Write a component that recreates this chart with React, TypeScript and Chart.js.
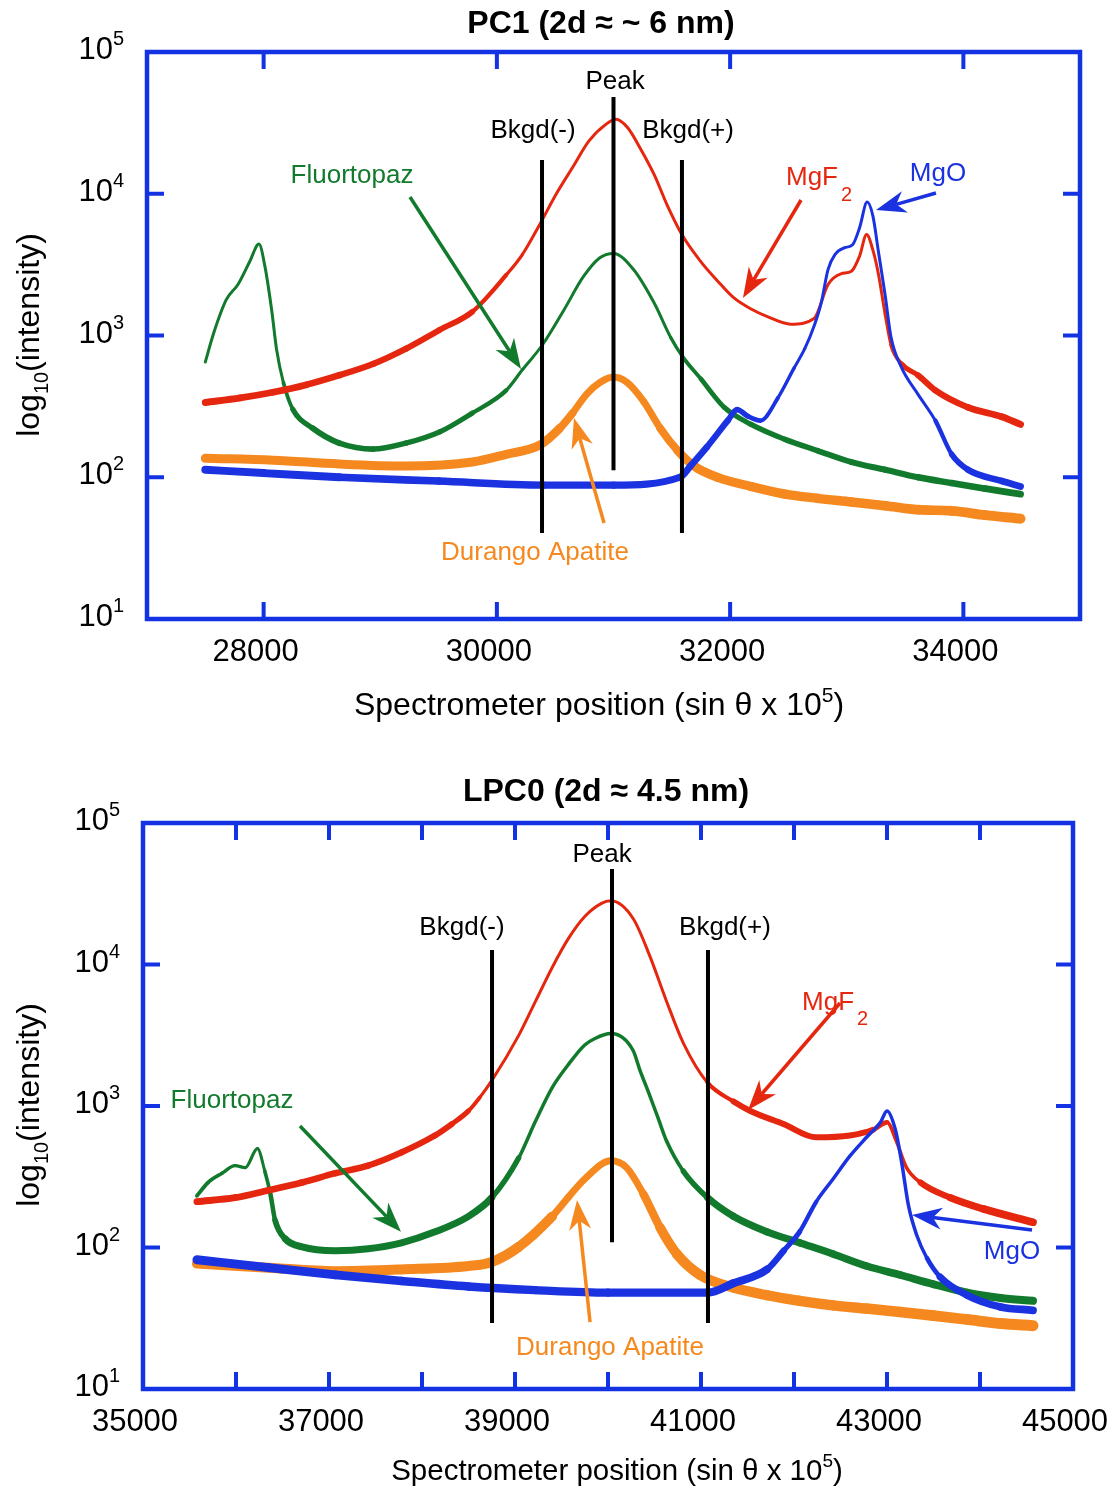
import React, { useEffect, useRef } from "react";
import { Chart, registerables } from "chart.js";

Chart.register(...registerables);

const FONT = '"Liberation Sans", Arial, Helvetica, sans-serif';

// ---------------- PC1 (2d ≈ ~6 nm) ----------------
const pc1MgF2X = [27500, 27800, 28080, 28370, 28650, 28940, 29220, 29510, 29790, 30080, 30220, 30370, 30510, 30650, 30790, 30940, 31020, 31120, 31230, 31350, 31460, 31590, 31750, 31890, 32030, 32180, 32320, 32520, 32720, 32840, 32950, 33040, 33110, 33170, 33225, 33270, 33330, 33380, 33470, 33610, 33760, 34040, 34330, 34490];
const pc1MgF2Y = [337, 363, 398, 450, 525, 631, 807, 1096, 1472, 2673, 3741, 6124, 10000, 15380, 23600, 31120, 33500, 29310, 20890, 13580, 8318, 5093, 3311, 2438, 1849, 1538, 1358, 1202, 1318, 2291, 2723, 2838, 3631, 5152, 3981, 2754, 1403, 857, 631, 525, 410, 311, 267, 236];

const pc1MgOX = [27500, 28000, 28650, 29500, 30400, 31000, 31570, 31660, 31800, 31980, 32060, 32150, 32260, 32410, 32550, 32640, 32720, 32780, 32840, 32900, 32980, 33050, 33110, 33175, 33225, 33270, 33330, 33380, 33470, 33610, 33760, 33900, 34040, 34330, 34490];
const pc1MgOY = [113, 107, 100, 94, 88, 88, 100, 120, 163, 251, 300, 270, 251, 363, 593, 807, 1167, 1687, 2931, 3741, 4159, 4365, 5754, 8730, 6918, 3981, 1905, 970, 593, 386, 251, 145, 113, 94, 86];

const pc1TopazX = [27500, 27570, 27680, 27780, 27880, 27960, 28010, 28070, 28110, 28170, 28250, 28420, 28650, 28940, 29220, 29510, 29790, 30080, 30220, 30390, 30570, 30740, 30880, 31000, 31170, 31350, 31490, 31590, 31750, 31950, 32180, 32470, 32750, 33040, 33330, 33610, 33900, 34190, 34490];
const pc1TopazY = [650, 1030, 1791, 2291, 3311, 4416, 3112, 1489, 807, 464, 302, 222, 174, 158, 174, 209, 284, 410, 575, 857, 1489, 2588, 3524, 3793, 2931, 1687, 970, 713, 493, 311, 236, 185, 154, 128, 113, 100, 91, 83, 76];

const pc1ApatiteX = [27500, 28080, 28650, 29220, 29790, 30080, 30370, 30540, 30650, 30770, 30880, 31000, 31120, 31260, 31400, 31550, 31690, 31890, 32180, 32470, 32750, 33040, 33330, 33610, 33900, 34190, 34490];
const pc1ApatiteY = [136, 132, 124, 120, 128, 145, 169, 222, 284, 386, 464, 509, 464, 341, 222, 154, 120, 100, 86, 76, 71, 67, 63, 59, 58, 54, 51];

const pc1LineX = [30387, 31000, 31587];
const pc1LineLow = [40.5, 112, 40.5];
const pc1LineHigh = [17300, 48200, 17300];

const pc1XTicks = [28000, 30000, 32000, 34000];
const pc1XLabels = [28000, 30000, 32000, 34000];

// ---------------- LPC0 (2d ≈ 4.5 nm) ----------------
const lpc0MgF2X = [35580, 35990, 36350, 36710, 37070, 37420, 37780, 38140, 38320, 38500, 38620, 38750, 39040, 39220, 39400, 39570, 39750, 39930, 40030, 40270, 40450, 40630, 40810, 41070, 41350, 41530, 41890, 42240, 42600, 42850, 43000, 43100, 43210, 43360, 43680, 44040, 44570];
const lpc0MgF2Y = [211, 225, 254, 288, 335, 379, 470, 619, 745, 923, 1146, 1510, 3155, 5483, 9528, 15100, 21830, 27040, 28180, 21130, 11460, 5483, 2786, 1462, 1076, 923, 745, 601, 619, 679, 767, 565, 367, 288, 225, 187, 151];

const lpc0MgOX = [35580, 36350, 37070, 37780, 38500, 39220, 40000, 41070, 41350, 41710, 41890, 42060, 42240, 42420, 42600, 42780, 42930, 43000, 43090, 43160, 43230, 43320, 43430, 43570, 43860, 44220, 44570];
const lpc0MgOY = [82, 72, 64, 58, 53, 50, 48, 48, 56, 70, 95, 129, 211, 305, 442, 601, 767, 923, 679, 391, 199, 122, 84, 62, 46, 38, 36];

const lpc0TopazX = [35580, 35700, 35850, 35990, 36100, 36230, 36310, 36370, 36420, 36530, 36710, 37070, 37420, 37780, 38140, 38500, 38750, 39040, 39220, 39400, 39570, 39750, 39860, 40030, 40270, 40340, 40450, 40540, 40630, 40810, 41070, 41350, 41710, 42060, 42420, 42780, 43140, 43500, 43860, 44220, 44570];
const lpc0TopazY = [232, 288, 335, 379, 367, 500, 346, 239, 156, 115, 101, 95, 98, 108, 129, 166, 225, 430, 780, 1350, 1950, 2700, 3000, 3251, 2466, 1816, 1180, 817, 565, 346, 225, 166, 129, 108, 90, 74, 64, 55, 48, 44, 42];

const lpc0ApatiteX = [35580, 36350, 37070, 37780, 38500, 38750, 39040, 39400, 39570, 39750, 40030, 40200, 40380, 40560, 40740, 40990, 41350, 41710, 42060, 42420, 42780, 43140, 43500, 43860, 44220, 44570];
const lpc0ApatiteY = [77, 72, 68, 70, 74, 79, 101, 166, 225, 305, 410, 367, 239, 138, 90, 64, 52, 46, 42, 39, 37, 35, 33, 31, 29, 28];

const lpc0LineX = [38753, 40043, 41075];
const lpc0LineLow = [29.3, 109, 29.3];
const lpc0LineHigh = [12650, 47300, 12650];

const lpc0XTicks = [36000, 37000, 38000, 39000, 40000, 41000, 42000, 43000, 44000];
const lpc0XLabels = [35000, 37000, 39000, 41000, 43000, 45000];

const yTickExps = [2, 3, 4];
const yLabelExps = [1, 2, 3, 4, 5];

// ---------------- styles ----------------
const RED = "#e6270f";
const GREEN = "#127a2c";
const BLUE = "#1a32e0";
const ORANGE = "#f5891f";
const FRAME = "#1232e3";

type Prof = [number, number][];
type SeriesCfg = { x: number[]; y: number[]; color: string; prof: Prof };
type TextCfg = { text: string; sub?: string; x: number; y: number; color: string };
type ArrowCfg = { x0: number; y0: number; x1: number; y1: number; color: string };
type PanelCfg = {
  title: string;
  titleCenter: [number, number];
  padding: { left: number; top: number; right: number; bottom: number };
  xMin: number;
  xMax: number;
  xTicks: number[];
  xLabels: number[];
  xTitleCenter: [number, number];
  xTitleSize: number;
  yTitleCenterY: number;
  series: SeriesCfg[];
  lineX: number[];
  lineLow: number[];
  lineHigh: number[];
  texts: TextCfg[];
  arrows: ArrowCfg[];
};

const pc1: PanelCfg = {
  title: "PC1 (2d ≈ ~ 6 nm)",
  titleCenter: [601, 33],
  padding: { left: 147, top: 52, right: 35, bottom: 126 },
  xMin: 27000,
  xMax: 35000,
  xTicks: pc1XTicks,
  xLabels: pc1XLabels,
  xTitleCenter: [599, 715],
  xTitleSize: 32,
  yTitleCenterY: 335,
  series: [
    { x: pc1MgOX, y: pc1MgOY, color: BLUE, prof: [[27500, 8], [31600, 7], [32000, 6], [32300, 4], [32600, 3], [33700, 3], [34000, 6], [34500, 7]] },
    { x: pc1MgF2X, y: pc1MgF2Y, color: RED, prof: [[27500, 7], [29600, 6], [30200, 3], [33350, 3], [33650, 6], [34500, 7]] },
    { x: pc1TopazX, y: pc1TopazY, color: GREEN, prof: [[27500, 3], [28150, 3], [28400, 6], [29800, 5], [30200, 3], [31500, 3], [31900, 5], [34500, 7]] },
    { x: pc1ApatiteX, y: pc1ApatiteY, color: ORANGE, prof: [[27500, 9], [30400, 9], [30700, 7], [31300, 7], [31700, 9], [34500, 10]] },
  ],
  lineX: pc1LineX,
  lineLow: pc1LineLow,
  lineHigh: pc1LineHigh,
  texts: [
    { text: "Peak", x: 31013, y: 62000, color: "#000" },
    { text: "Bkgd(-)", x: 30310, y: 27600, color: "#000" },
    { text: "Bkgd(+)", x: 31639, y: 27600, color: "#000" },
    { text: "Fluortopaz", x: 28758, y: 13340, color: GREEN },
    { text: "MgF", sub: "2", x: 32702, y: 12880, color: RED },
    { text: "MgO", x: 33782, y: 13770, color: BLUE },
    { text: "Durango Apatite", x: 30327, y: 29.2, color: ORANGE },
  ],
  arrows: [
    { x0: 29255, y0: 9484, x1: 30207, y1: 581, color: GREEN },
    { x0: 32608, y0: 9036, x1: 32110, y1: 1841, color: RED },
    { x0: 33765, y0: 10116, x1: 33251, y1: 7674, color: BLUE },
    { x0: 30919, y0: 47.5, x1: 30661, y1: 262, color: ORANGE },
  ],
};

const lpc0: PanelCfg = {
  title: "LPC0 (2d ≈ 4.5 nm)",
  titleCenter: [606, 56],
  padding: { left: 143, top: 78, right: 42, bottom: 101 },
  xMin: 35000,
  xMax: 45000,
  xTicks: lpc0XTicks,
  xLabels: lpc0XLabels,
  xTitleCenter: [617, 735],
  xTitleSize: 29.5,
  yTitleCenterY: 360,
  series: [
    { x: lpc0MgOX, y: lpc0MgOY, color: BLUE, prof: [[35500, 9], [41600, 8], [42000, 5], [42300, 3.5], [43400, 3.5], [43700, 7], [44600, 8]] },
    { x: lpc0MgF2X, y: lpc0MgF2Y, color: RED, prof: [[35500, 7], [38300, 6], [38700, 3], [41100, 3], [41400, 6], [42800, 6], [43050, 3.5], [43300, 3.5], [43600, 7], [44600, 8]] },
    { x: lpc0TopazX, y: lpc0TopazY, color: GREEN, prof: [[35500, 4], [36300, 3], [36550, 7], [38700, 7], [39100, 3.5], [40700, 3.5], [41100, 7], [44600, 8]] },
    { x: lpc0ApatiteX, y: lpc0ApatiteY, color: ORANGE, prof: [[35500, 10], [39200, 10], [39500, 7], [40300, 7], [40700, 10], [44600, 11]] },
  ],
  lineX: lpc0LineX,
  lineLow: lpc0LineLow,
  lineHigh: lpc0LineHigh,
  texts: [
    { text: "Peak", x: 39936, y: 59430, color: "#000" },
    { text: "Bkgd(-)", x: 38430, y: 18110, color: "#000" },
    { text: "Bkgd(+)", x: 41258, y: 18110, color: "#000" },
    { text: "Fluortopaz", x: 35957, y: 1084, color: GREEN },
    { text: "MgF", sub: "2", x: 42366, y: 5346, color: RED },
    { text: "MgO", x: 44344, y: 92.9, color: BLUE },
    { text: "Durango Apatite", x: 40022, y: 19.5, color: ORANGE },
  ],
  arrows: [
    { x0: 36688, y0: 723, x1: 37774, y1: 129, color: GREEN },
    { x0: 42495, y0: 5346, x1: 41506, y1: 938, color: RED },
    { x0: 44559, y0: 133, x1: 43269, y1: 170, color: BLUE },
    { x0: 39807, y0: 29.7, x1: 39667, y1: 217, color: ORANGE },
  ],
};

type Run = { text: string; size: number; dy?: number; bold?: boolean };

function drawRuns(ctx: CanvasRenderingContext2D, runs: Run[], x: number, y: number, align: "left" | "center" | "right") {
  let total = 0;
  const widths = runs.map((r) => {
    ctx.font = `${r.bold ? "bold " : ""}${r.size}px ${FONT}`;
    const w = ctx.measureText(r.text).width;
    total += w;
    return w;
  });
  let cx = align === "left" ? x : align === "center" ? x - total / 2 : x - total;
  ctx.textAlign = "left";
  ctx.textBaseline = "alphabetic";
  runs.forEach((r, i) => {
    ctx.font = `${r.bold ? "bold " : ""}${r.size}px ${FONT}`;
    ctx.fillText(r.text, cx, y + (r.dy || 0));
    cx += widths[i];
  });
}

function drawArrow(ctx: CanvasRenderingContext2D, x0: number, y0: number, x1: number, y1: number, color: string) {
  const a = Math.atan2(y1 - y0, x1 - x0);
  const c = Math.cos(a);
  const s = Math.sin(a);
  const L = 30;
  const W = 11;
  const N = 21;
  ctx.strokeStyle = color;
  ctx.fillStyle = color;
  ctx.lineWidth = 3.5;
  ctx.lineCap = "butt";
  ctx.beginPath();
  ctx.moveTo(x0, y0);
  ctx.lineTo(x1 - N * c, y1 - N * s);
  ctx.stroke();
  ctx.beginPath();
  ctx.moveTo(x1, y1);
  ctx.lineTo(x1 - L * c + W * s, y1 - L * s - W * c);
  ctx.lineTo(x1 - N * c, y1 - N * s);
  ctx.lineTo(x1 - L * c - W * s, y1 - L * s + W * c);
  ctx.closePath();
  ctx.fill();
}

function decorPlugin(cfg: PanelCfg) {
  return {
    id: "decor",
    afterDatasetsDraw(chart: any) {
      const ctx: CanvasRenderingContext2D = chart.ctx;
      const { left, right, top, bottom } = chart.chartArea;
      const xs = chart.scales.x;
      const ys = chart.scales.y;
      ctx.save();

      cfg.arrows.forEach((a) => {
        drawArrow(ctx, xs.getPixelForValue(a.x0), ys.getPixelForValue(a.y0), xs.getPixelForValue(a.x1), ys.getPixelForValue(a.y1), a.color);
      });
      cfg.texts.forEach((t) => {
        const px = xs.getPixelForValue(t.x);
        const py = ys.getPixelForValue(t.y);
        ctx.fillStyle = t.color;
        ctx.font = `26px ${FONT}`;
        ctx.textAlign = "center";
        ctx.textBaseline = "middle";
        ctx.fillText(t.text, px, py);
        if (t.sub) {
          const w = ctx.measureText(t.text).width;
          ctx.font = `20px ${FONT}`;
          ctx.textAlign = "left";
          ctx.fillText(t.sub, px + w / 2 + 3, py + 17);
        }
      });

      // frame
      ctx.strokeStyle = FRAME;
      ctx.lineWidth = 4.5;
      ctx.strokeRect(left, top, right - left, bottom - top);

      // ticks (inside the frame, on all four sides)
      const TL = 17;
      ctx.lineWidth = 4;
      ctx.beginPath();
      cfg.xTicks.forEach((v) => {
        const px = xs.getPixelForValue(v);
        ctx.moveTo(px, bottom);
        ctx.lineTo(px, bottom - TL);
        ctx.moveTo(px, top);
        ctx.lineTo(px, top + TL);
      });
      yTickExps.forEach((e) => {
        const py = ys.getPixelForValue(Math.pow(10, e));
        ctx.moveTo(left, py);
        ctx.lineTo(left + TL, py);
        ctx.moveTo(right, py);
        ctx.lineTo(right - TL, py);
      });
      ctx.stroke();

      // tick labels
      ctx.fillStyle = "#000";
      cfg.xLabels.forEach((v) => {
        const px = xs.getPixelForValue(v);
        drawRuns(ctx, [{ text: String(v), size: 31 }], px - 8, bottom + 42, "center");
      });
      yLabelExps.forEach((e) => {
        const py = ys.getPixelForValue(Math.pow(10, e));
        drawRuns(ctx, [{ text: "10", size: 31 }, { text: String(e), size: 20, dy: -14 }], left - 23, py + 7, "right");
      });

      // axis titles
      drawRuns(
        ctx,
        [
          { text: "Spectrometer position (sin θ x 10", size: cfg.xTitleSize },
          { text: "5", size: Math.round(cfg.xTitleSize * 0.65), dy: -13 },
          { text: ")", size: cfg.xTitleSize },
        ],
        cfg.xTitleCenter[0],
        cfg.xTitleCenter[1],
        "center"
      );
      ctx.save();
      ctx.translate(39, cfg.yTitleCenterY);
      ctx.rotate(-Math.PI / 2);
      drawRuns(
        ctx,
        [
          { text: "log", size: 32 },
          { text: "10", size: 20, dy: 9 },
          { text: "(intensity)", size: 32 },
        ],
        0,
        0,
        "center"
      );
      ctx.restore();

      drawRuns(ctx, [{ text: cfg.title, size: 32, bold: true }], cfg.titleCenter[0], cfg.titleCenter[1], "center");
      ctx.restore();
    },
  };
}

function widthFrom(prof: Prof) {
  return (c: any) => {
    const x = (c.p0.parsed.x + c.p1.parsed.x) / 2;
    if (x <= prof[0][0]) return prof[0][1];
    for (let i = 1; i < prof.length; i++) {
      if (x <= prof[i][0]) {
        const t = (x - prof[i - 1][0]) / (prof[i][0] - prof[i - 1][0]);
        return prof[i - 1][1] + t * (prof[i][1] - prof[i - 1][1]);
      }
    }
    return prof[prof.length - 1][1];
  };
}

function Panel({ cfg, top }: { cfg: PanelCfg; top: number }) {
  const ref = useRef<HTMLCanvasElement>(null);
  useEffect(() => {
    const canvas = ref.current;
    if (!canvas) return;
    const datasets: any[] = [];
    cfg.lineX.forEach((x, i) => {
      datasets.push({
        data: [
          { x, y: cfg.lineLow[i] },
          { x, y: cfg.lineHigh[i] },
        ],
        showLine: true,
        borderColor: "#000",
        borderWidth: 4,
        pointRadius: 0,
        borderCapStyle: "butt",
      });
    });
    cfg.series.forEach((s) => {
      datasets.push({
        data: s.x.map((x, i) => ({ x, y: s.y[i] })),
        showLine: true,
        borderColor: s.color,
        borderWidth: s.prof[0][1],
        pointRadius: 0,
        cubicInterpolationMode: "monotone",
        borderJoinStyle: "round",
        borderCapStyle: "round",
        segment: { borderWidth: widthFrom(s.prof) },
      });
    });
    const chart = new Chart(canvas, {
      type: "scatter",
      data: { datasets },
      options: {
        animation: false,
        responsive: false,
        maintainAspectRatio: false,
        events: [],
        layout: { padding: cfg.padding },
        plugins: { legend: { display: false }, tooltip: { enabled: false }, title: { display: false } },
        scales: {
          x: { type: "linear", min: cfg.xMin, max: cfg.xMax, display: false },
          y: { type: "logarithmic", min: 10, max: 100000, display: false },
        },
      },
      plugins: [decorPlugin(cfg)],
    } as any);
    return () => chart.destroy();
  }, [cfg]);
  return (
    <canvas
      ref={ref}
      width={1115}
      height={745}
      style={{ position: "absolute", left: 0, top, width: 1115, height: 745, display: "block" }}
    />
  );
}

export default function App() {
  return (
    <div style={{ position: "absolute", left: 0, top: 0, width: 1115, height: 1490, background: "#fff" }}>
      <Panel cfg={pc1} top={0} />
      <Panel cfg={lpc0} top={745} />
    </div>
  );
}
